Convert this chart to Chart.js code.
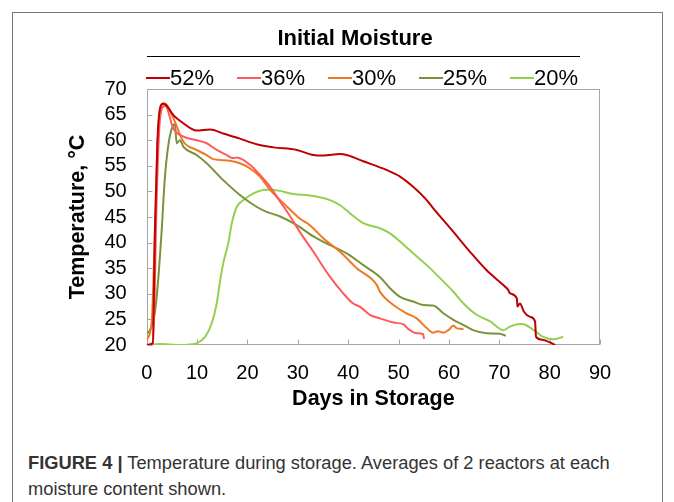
<!DOCTYPE html>
<html>
<head>
<meta charset="utf-8">
<script src="https://cdn.jsdelivr.net/npm/chart.js@4.4.1/dist/chart.umd.min.js"></script>
<style>
  body { margin: 0; width: 674px; height: 502px; background: #fff; position: relative; overflow: hidden;
         font-family: "Liberation Sans", Arial, sans-serif; }
  #frame { position: absolute; left: 12px; top: 12px; width: 649px; height: 500px; border: 1px solid #777; border-bottom: none; }
  #title { position: absolute; left: 200px; width: 310px; top: 26px; line-height: 24px; text-align: center;
           font-weight: bold; font-size: 22px; color: #000; }
  #rule { position: absolute; left: 147px; width: 433px; top: 56px; border-top: 1.5px solid #000; }
  #legend { position: absolute; left: 0; top: 65px; height: 26px; width: 674px; }
  .item { position: absolute; top: 0; height: 26px; display: flex; align-items: center; font-size: 22px; color: #000; }
  .mark { width: 24px; height: 2px; }
  #chart { position: absolute; left: 0; top: 0; }
  #caption { position: absolute; left: 28px; top: 450px; width: 640px; font-size: 18.3px; line-height: 26px; color: #333; white-space: nowrap; }
</style>
</head>
<body>
<div id="frame"></div>
<canvas id="chart" width="674" height="420"></canvas>
<div id="title">Initial Moisture</div>
<div id="rule"></div>
<div id="legend"></div>
<div id="caption"><b>FIGURE 4 |</b> Temperature during storage. Averages of 2 reactors at each<br>moisture content shown.</div>
<script>
// series: days in storage and temperature (°C)
const days52 = [0, 1.2, 1.65, 2.1, 2.65, 3.2, 3.8, 5.3, 7.3, 9.9, 12.6, 15.2, 18.5, 21.8, 25.1, 29.8, 33.1, 35.1, 38.4, 39.7, 43.0, 47.6, 50.3, 52.9, 55.6, 56.9, 60.9, 64.2, 67.5, 70.8, 71.8, 72.1, 73.5, 73.6, 74.1, 74.9, 76.1, 77.1, 77.3, 78.7, 81.1];
const temp52 = [20, 20.4, 42.9, 59.1, 66.3, 67.1, 66.9, 64.9, 63.3, 61.9, 62.1, 61.3, 60.3, 59.2, 58.6, 58.1, 57.1, 57.0, 57.3, 57.1, 55.9, 54.2, 52.9, 50.9, 48.3, 46.7, 42.1, 38.2, 34.6, 31.7, 30.7, 30.1, 29.1, 27.5, 28.1, 26.5, 25.5, 24.6, 21.6, 21.0, 20.0];

const days36 = [0, 1.25, 2.0, 2.5, 3.2, 3.7, 5.3, 7.3, 9.9, 11.9, 13.9, 15.9, 17.1, 17.9, 20.5, 22.5, 24.5, 26.5, 28.5, 30.4, 33.1, 36.4, 39.0, 41.0, 42.3, 44.3, 46.3, 49.0, 51.1, 51.6, 53.6, 54.9, 55.05];
const temp36 = [20, 20.2, 49.3, 62.3, 66.5, 66.7, 62.3, 60.7, 60.0, 59.4, 58.1, 57.1, 56.5, 56.6, 55.2, 53.2, 50.9, 48.0, 45.1, 42.1, 38.2, 33.3, 30.1, 28.1, 27.5, 25.9, 25.2, 24.4, 24.0, 23.4, 22.3, 22.1, 21.2];

const days30 = [0, 1.0, 1.65, 2.3, 2.85, 3.45, 3.95, 5.3, 7.3, 9.9, 11.9, 13.2, 16.5, 18.5, 20.5, 22.5, 24.5, 26.5, 28.5, 30.4, 32.4, 35.1, 38.4, 41.7, 45.7, 46.3, 49.0, 51.6, 53.6, 55.6, 56.9, 57.8, 58.9, 59.9, 60.9, 61.5, 62.9];
const temp30 = [21.0, 24.6, 42.9, 62.3, 66.3, 67.2, 66.9, 64.3, 59.7, 58.1, 57.1, 56.3, 56.0, 55.5, 54.5, 52.9, 50.3, 48.3, 46.4, 44.7, 43.4, 40.8, 38.2, 35.0, 31.7, 30.4, 27.8, 26.2, 25.2, 23.3, 22.4, 22.7, 22.4, 22.9, 23.8, 23.3, 23.1];

const days25 = [0, 0.65, 1.65, 2.3, 3.0, 3.6, 4.3, 5.0, 5.6, 5.95, 6.6, 7.3, 9.9, 11.9, 15.2, 18.5, 21.8, 23.8, 26.5, 29.8, 33.1, 36.4, 39.7, 43.0, 46.3, 48.3, 50.3, 52.9, 54.9, 56.9, 58.9, 60.9, 62.9, 64.8, 67.5, 70.1, 71.3];
const temp25 = [22.3, 22.9, 26.5, 33.0, 42.8, 52.6, 59.1, 62.3, 63.1, 59.4, 60.0, 58.7, 57.1, 55.5, 52.2, 49.3, 47.0, 46.0, 45.1, 43.4, 41.2, 39.5, 37.9, 35.6, 33.3, 31.1, 29.4, 28.5, 27.8, 27.7, 26.2, 24.9, 23.9, 22.9, 22.3, 22.2, 21.8];

const days20 = [0, 2.6, 4.6, 6.6, 8.6, 9.9, 11.6, 12.9, 13.9, 14.6, 15.2, 16.2, 16.9, 17.9, 19.2, 21.2, 23.8, 26.5, 28.5, 33.1, 36.4, 38.4, 40.4, 43.0, 46.3, 48.3, 50.3, 52.9, 55.6, 57.6, 60.9, 62.9, 65.5, 68.2, 70.8, 72.1, 74.1, 75.3, 77.1, 78.7, 80.7, 82.7];
const temp20 = [20.0, 20.2, 20.1, 20.0, 20.1, 20.3, 21.6, 24.2, 28.1, 32.7, 36.0, 39.9, 43.8, 47.0, 48.3, 49.6, 50.3, 50.1, 49.6, 49.1, 48.3, 47.3, 45.7, 43.8, 42.8, 41.8, 40.2, 37.9, 35.6, 33.7, 30.4, 28.1, 25.9, 24.6, 22.9, 23.6, 24.1, 23.9, 22.7, 21.6, 21.1, 21.6];

const seriesLabels = ['52%', '36%', '30%', '25%', '20%'];
const seriesColors = ['#C00000', '#FF5A5A', '#F07820', '#77933C', '#92D050'];
const seriesDays = [days52, days36, days30, days25, days20];
const seriesTemps = [temp52, temp36, temp30, temp25, temp20];

const dayMin = 0, dayMax = 90, dayStep = 10;
const tempMin = 20, tempMax = 70, tempStep = 5;

Chart.defaults.font.family = '"Liberation Sans", Arial, sans-serif';

const datasets = seriesLabels.map((label, i) => ({
  label: label,
  data: seriesDays[i].map((d, j) => ({ x: d, y: seriesTemps[i][j] })),
  borderColor: seriesColors[i],
  backgroundColor: seriesColors[i],
  borderWidth: 2,
  pointRadius: 0,
  cubicInterpolationMode: 'monotone',
  fill: false
}));

// grey box round the plot and short ticks pointing inward
const plotBox = {
  id: 'plotBox',
  beforeDatasetsDraw(chart) {
    const { ctx, chartArea: a, scales: { x, y } } = chart;
    ctx.save();
    ctx.strokeStyle = '#a6a6a6';
    ctx.lineWidth = 1;
    const l = Math.round(a.left) + 0.5, t = Math.round(a.top) + 0.5;
    const r = Math.round(a.right) - 0.5, b = Math.round(a.bottom) - 0.5;
    ctx.strokeRect(l, t, r - l, b - t);
    ctx.beginPath();
    x.ticks.forEach(tk => {
      const px = Math.round(x.getPixelForValue(tk.value)) + 0.5;
      ctx.moveTo(px, b); ctx.lineTo(px, b - 5);
    });
    y.ticks.forEach(tk => {
      const py = Math.round(y.getPixelForValue(tk.value)) + 0.5;
      ctx.moveTo(l, py); ctx.lineTo(l + 5, py);
    });
    ctx.stroke();
    ctx.restore();
  }
};

const chart = new Chart(document.getElementById('chart'), {
  type: 'line',
  data: { datasets: datasets },
  options: {
    responsive: false,
    animation: false,
    devicePixelRatio: 1,
    layout: { padding: { left: 62, right: 74, top: 89, bottom: 0 } },
    plugins: { legend: { display: false }, tooltip: { enabled: false } },
    scales: {
      x: {
        type: 'linear', min: dayMin, max: dayMax,
        ticks: { stepSize: dayStep, color: '#000', font: { size: 20 }, padding: 16 },
        grid: { display: false, drawTicks: false },
        border: { display: false },
        title: { display: true, text: 'Days in Storage', color: '#000',
                 font: { size: 21.5, weight: 'bold' }, padding: { top: 1, bottom: 8 } },
        afterFit(scale) { scale.height = 75; }
      },
      y: {
        min: tempMin, max: tempMax,
        ticks: { stepSize: tempStep, autoSkip: false, color: '#000', font: { size: 20 }, padding: 20 },
        grid: { display: false, drawTicks: false },
        border: { display: false },
        title: { display: true, text: 'Temperature, °C', color: '#000',
                 font: { size: 21.5, weight: 'bold' }, padding: { top: 3, bottom: 0 } },
        afterFit(scale) { scale.width = 84.7; }
      }
    }
  },
  plugins: [plotBox]
});

// legend: short coloured line then the label, as in the figure
const legendLeft = [146, 237, 328, 419, 510];
const legendEl = document.getElementById('legend');
chart.data.datasets.forEach((ds, i) => {
  const item = document.createElement('div');
  item.className = 'item';
  item.style.left = legendLeft[i] + 'px';
  const mark = document.createElement('span');
  mark.className = 'mark';
  mark.style.background = ds.borderColor;
  const txt = document.createElement('span');
  txt.textContent = ds.label;
  item.appendChild(mark);
  item.appendChild(txt);
  legendEl.appendChild(item);
});
</script>
</body>
</html>
